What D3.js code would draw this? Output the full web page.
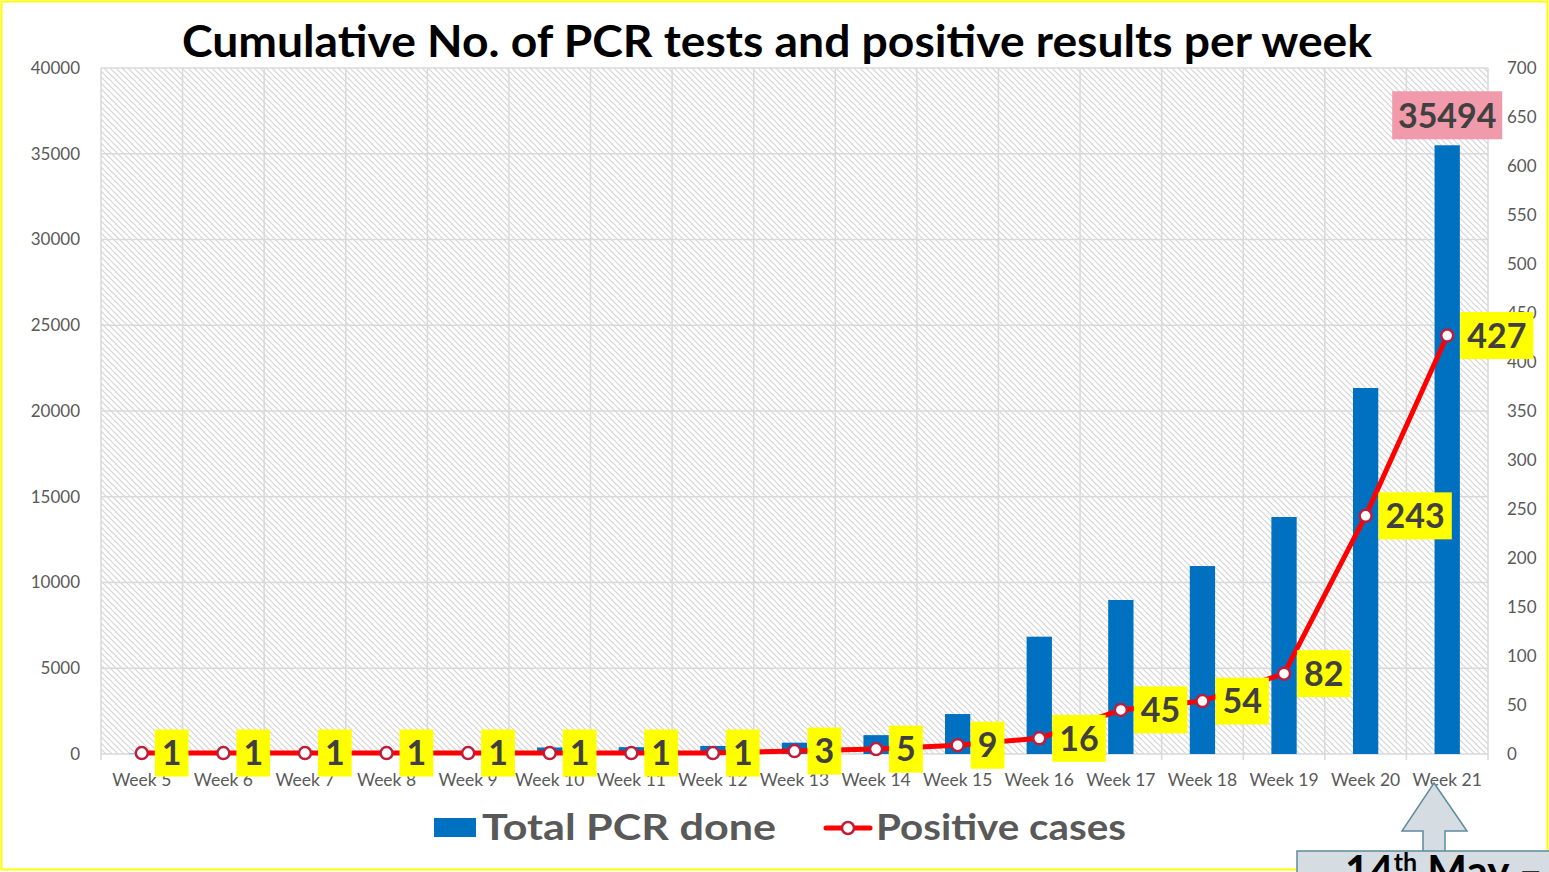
<!DOCTYPE html>
<html>
<head>
<meta charset="utf-8">
<script src="https://cdn.jsdelivr.net/npm/d3@7"></script>
<style>
  html, body { margin: 0; padding: 0; background: #fff; }
  svg { display: block; font-family: Lato, "Open Sans", sans-serif; }
</style>
</head>
<body>
<script>
// weekly categories
var weeks = ["Week 5", "Week 6", "Week 7", "Week 8", "Week 9", "Week 10", "Week 11",
    "Week 12", "Week 13", "Week 14", "Week 15", "Week 16", "Week 17", "Week 18",
    "Week 19", "Week 20", "Week 21"];

// cumulative PCR tests (left axis)
var totalPCR = [20, 30, 50, 80, 120, 380, 400, 470, 660, 1100, 2330, 6840, 8980, 10960, 13820, 21340, 35494];

// cumulative positive cases (right axis)
var positives = [1, 1, 1, 1, 1, 1, 1, 1, 3, 5, 9, 16, 45, 54, 82, 243, 427];

var leftTicks = [0, 5000, 10000, 15000, 20000, 25000, 30000, 35000, 40000];
var rightTicks = [0, 50, 100, 150, 200, 250, 300, 350, 400, 450, 500, 550, 600, 650, 700];

var width = 1549, height = 872;
var plot = { left: 101, right: 1488, top: 68, bottom: 754 };

var svg = d3.select("body").append("svg")
    .attr("width", width)
    .attr("height", height);

// hatch pattern for plot background
var defs = svg.append("defs");
var pat = defs.append("pattern")
    .attr("id", "hatch")
    .attr("patternUnits", "userSpaceOnUse")
    .attr("width", 6)
    .attr("height", 6);
pat.append("path")
    .attr("d", "M-1,-1 L7,7 M-4,2 L1,7 M5,-1 L7,1")
    .attr("stroke", "#d4d4d4")
    .attr("stroke-width", 1.2);

var x = d3.scaleBand()
    .domain(weeks)
    .range([plot.left, plot.right])
    .paddingInner(0.69)
    .paddingOuter(0.345);

var yL = d3.scaleLinear().domain([0, 40000]).range([plot.bottom, plot.top]);
var yR = d3.scaleLinear().domain([0, 700]).range([plot.bottom, plot.top]);

function cx(d) { return x(d) + x.bandwidth() / 2; }

// outer yellow frame
svg.append("rect")
    .attr("x", 1.5).attr("y", 1.5)
    .attr("width", width - 3).attr("height", height - 4)
    .attr("fill", "none")
    .attr("stroke", "#ffff00")
    .attr("stroke-width", 2);

// plot background
svg.append("rect")
    .attr("x", plot.left).attr("y", plot.top)
    .attr("width", plot.right - plot.left)
    .attr("height", plot.bottom - plot.top)
    .attr("fill", "url(#hatch)");

// horizontal gridlines
svg.append("g").selectAll("line")
    .data(leftTicks)
    .enter().append("line")
    .attr("x1", plot.left).attr("x2", plot.right)
    .attr("y1", function (d) { return yL(d); })
    .attr("y2", function (d) { return yL(d); })
    .attr("stroke", "#d9d9d9")
    .attr("stroke-width", 1.5);

// vertical gridlines at category boundaries (with small ticks below)
var bounds = d3.range(weeks.length + 1).map(function (i) { return plot.left + i * x.step(); });
svg.append("g").selectAll("line")
    .data(bounds)
    .enter().append("line")
    .attr("x1", function (d) { return d; })
    .attr("x2", function (d) { return d; })
    .attr("y1", plot.top)
    .attr("y2", plot.bottom + 6)
    .attr("stroke", "#d9d9d9")
    .attr("stroke-width", 1.5);

// left axis
var axL = svg.append("g")
    .attr("transform", "translate(" + (plot.left - 18) + ",0)")
    .call(d3.axisLeft(yL).tickValues(leftTicks).tickSize(0).tickFormat(d3.format("d")));
axL.select(".domain").remove();
axL.selectAll("text")
    .attr("font-family", "Lato, sans-serif")
    .attr("font-size", 17)
    .attr("fill", "#595959");

// right axis
var axR = svg.append("g")
    .attr("transform", "translate(" + (plot.right + 16) + ",0)")
    .call(d3.axisRight(yR).tickValues(rightTicks).tickSize(0));
axR.select(".domain").remove();
axR.selectAll("text")
    .attr("font-family", "Lato, sans-serif")
    .attr("font-size", 17)
    .attr("fill", "#595959");

// bottom axis labels
var axB = svg.append("g")
    .attr("transform", "translate(0," + (plot.bottom + 17) + ")")
    .call(d3.axisBottom(x).tickSize(0));
axB.select(".domain").remove();
axB.selectAll("text")
    .attr("font-family", "Lato, sans-serif")
    .attr("font-size", 17.5)
    .attr("fill", "#595959");

// bars
svg.append("g").selectAll("rect")
    .data(weeks)
    .enter().append("rect")
    .attr("x", function (d) { return x(d); })
    .attr("width", x.bandwidth())
    .attr("y", function (d, i) { return yL(totalPCR[i]); })
    .attr("height", function (d, i) { return plot.bottom - yL(totalPCR[i]); })
    .attr("fill", "#0070c0");

// positive cases line
var line = d3.line()
    .x(function (d) { return cx(d); })
    .y(function (d, i) { return yR(positives[i]); });

svg.append("path")
    .datum(weeks)
    .attr("d", line)
    .attr("fill", "none")
    .attr("stroke", "#ff0000")
    .attr("stroke-width", 5)
    .attr("stroke-linejoin", "round");

svg.append("g").selectAll("circle")
    .data(weeks)
    .enter().append("circle")
    .attr("cx", function (d) { return cx(d); })
    .attr("cy", function (d, i) { return yR(positives[i]); })
    .attr("r", 6)
    .attr("fill", "#fff")
    .attr("stroke", "#be1e3c")
    .attr("stroke-width", 2.5);

// yellow data labels for positives
var lab = svg.append("g").selectAll("g")
    .data(weeks)
    .enter().append("g")
    .attr("transform", function (d, i) {
        return "translate(" + (cx(d) + 13) + "," + yR(positives[i]) + ")";
    });
lab.append("rect").attr("fill", "#ffff00");
lab.append("text")
    .attr("font-family", "Lato, sans-serif")
    .attr("font-weight", "bold")
    .attr("font-size", 34)
    .attr("fill", "#404040")
    .attr("text-anchor", "middle")
    .attr("dy", "0.36em")
    .text(function (d, i) { return positives[i]; });
lab.each(function () {
    var g = d3.select(this);
    var w = g.select("text").node().getComputedTextLength() + 14;
    if (w < 32) w = 32;
    g.select("rect").attr("x", 0).attr("y", -23.5).attr("width", w).attr("height", 47);
    g.select("text").attr("x", w / 2);
});

// pink label for last bar total
var last = weeks.length - 1;
var pink = svg.append("g")
    .attr("transform", "translate(" + cx(weeks[last]) + "," + (yL(totalPCR[last]) - 30) + ")");
pink.append("rect")
    .attr("x", -55).attr("y", -24)
    .attr("width", 110).attr("height", 48)
    .attr("fill", "#f09aab");
pink.append("text")
    .attr("font-family", "Lato, sans-serif")
    .attr("font-weight", "bold")
    .attr("font-size", 34)
    .attr("fill", "#404040")
    .attr("text-anchor", "middle")
    .attr("dy", "0.36em")
    .text(d3.format("d")(totalPCR[last]));

// title
svg.append("text")
    .attr("x", 777).attr("y", 57)
    .attr("text-anchor", "middle")
    .attr("font-family", "Lato, sans-serif")
    .attr("font-weight", "bold")
    .attr("font-size", 44)
    .attr("textLength", 1190)
    .attr("lengthAdjust", "spacingAndGlyphs")
    .attr("fill", "#000")
    .text("Cumulative No. of PCR tests and positive results per week");

// legend
var leg = svg.append("g");
leg.append("rect")
    .attr("x", 434).attr("y", 818).attr("width", 42).attr("height", 19)
    .attr("fill", "#0070c0");
leg.append("text")
    .attr("x", 482).attr("y", 840)
    .attr("font-family", "Lato, sans-serif")
    .attr("font-weight", "bold")
    .attr("font-size", 37)
    .attr("textLength", 294)
    .attr("lengthAdjust", "spacingAndGlyphs")
    .attr("fill", "#595959")
    .text("Total PCR done");
leg.append("line")
    .attr("x1", 826).attr("x2", 870).attr("y1", 828).attr("y2", 828)
    .attr("stroke", "#ff0000").attr("stroke-width", 5).attr("stroke-linecap", "round");
leg.append("circle")
    .attr("cx", 848).attr("cy", 828).attr("r", 6)
    .attr("fill", "#fff").attr("stroke", "#be1e3c").attr("stroke-width", 2.5);
leg.append("text")
    .attr("x", 876).attr("y", 840)
    .attr("font-family", "Lato, sans-serif")
    .attr("font-weight", "bold")
    .attr("font-size", 37)
    .attr("textLength", 250)
    .attr("lengthAdjust", "spacingAndGlyphs")
    .attr("fill", "#595959")
    .text("Positive cases");

// annotation arrow + box (bottom right)
var ann = svg.append("g");
ann.append("path")
    .attr("d", "M1434,783 L1467,831 L1445,831 L1445,853 L1423,853 L1423,831 L1402,831 Z")
    .attr("fill", "#d5dde3")
    .attr("stroke", "#5f8b9e")
    .attr("stroke-width", 1.5);
ann.append("rect")
    .attr("x", 1297).attr("y", 851).attr("width", 270).attr("height", 60)
    .attr("fill", "#d5dde3")
    .attr("stroke", "#5f8b9e")
    .attr("stroke-width", 1.5);
var annText = ann.append("text")
    .attr("x", 1345).attr("y", 886)
    .attr("font-family", "Lato, sans-serif")
    .attr("font-weight", "bold")
    .attr("font-size", 42)
    .attr("fill", "#000");
annText.append("tspan").text("14");
annText.append("tspan").attr("font-size", 25).attr("dy", -15).text("th");
annText.append("tspan").attr("dy", 15).text(" May –");
</script>
</body>
</html>
